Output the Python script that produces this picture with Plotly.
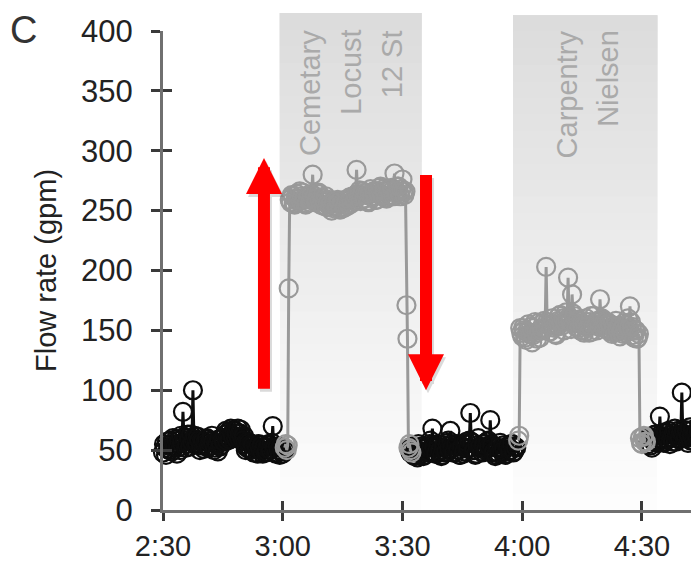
import plotly.graph_objects as go
import pandas as pd

DAY = "2020-01-01 "

# ---- data (flow rate in gpm, sampled every 15 s) ----
seg_a_start = "02:30:00"  # black
seg_a_values = [48, 55, 52, 46, 57, 51, 50, 58, 55, 49, 60, 54, 53, 59, 47, 52, 58, 50, 62, 56,
                82, 61, 58, 52, 55, 63, 60, 53, 63, 57, 100, 59, 62, 55, 56, 61, 58, 50, 54, 58,
                57, 51, 55, 59, 60, 52, 53, 57, 58, 62, 56, 50, 52, 56, 55, 49, 59, 53, 54, 60,
                60, 57, 63, 66, 58, 61, 65, 59, 68, 63, 62, 67, 66, 60, 64, 68, 60, 64, 67, 61,
                58, 62, 55, 50, 52, 57, 56, 51, 50, 55, 54, 48, 48, 53, 52, 47, 55, 51, 50, 54,
                47, 52, 53, 48, 49, 54, 55, 50, 50, 56, 70, 53, 52, 47, 48, 53, 50, 46, 53, 49,
                47, 52, 50]

seg_b_start = "03:00:30"  # grey (Cemetary / Locust / 12 St)
seg_b_values = [52, 55, 50, 54, 185, 259,
                257, 263, 262, 256, 255, 260, 264, 258, 260, 266, 258, 262, 265, 259, 261, 255,
                256, 262, 263, 257, 259, 264,
                280, 262,
                262, 257, 258, 264, 265, 259, 255, 261, 260, 254, 257, 262, 253, 258, 259, 255,
                256, 250, 252, 257, 258, 253, 254, 259, 257, 251, 251, 256, 256, 252, 253, 259,
                258, 254, 255, 261, 260, 256, 262, 258, 258, 263,
                284, 264,
                262, 267, 258, 263, 266, 260, 260, 265, 263, 258, 257, 264, 268, 262, 261, 266,
                265, 259, 259, 266, 264, 269, 270, 263, 262, 268, 266, 261, 260, 267, 268, 263,
                263, 269, 267, 262,
                281, 265,
                265, 270, 270, 264, 262, 268, 276, 266, 263, 266,
                171, 143, 52, 55, 50, 48]

seg_c_start = "03:32:00"  # black
seg_c_values = [48, 53, 52, 46, 45, 51, 50, 44, 55, 49, 47, 53, 51, 45, 46, 52, 53, 48, 49, 55,
                58, 52, 68, 54, 52, 47, 47, 53, 55, 49, 50, 45, 46, 52, 54, 48, 49, 56, 58, 51,
                66, 55, 52, 48, 48, 54, 55, 50, 50, 46, 46, 53, 53, 47, 49, 55, 57, 51, 52, 58,
                81, 57, 56, 50, 50, 46, 47, 54, 60, 52, 53, 49, 48, 55, 55, 50, 51, 57, 58, 53,
                75, 55, 54, 48, 49, 45, 46, 52, 52, 47, 56, 50, 48, 54, 51, 46, 47, 53, 53, 49,
                50, 55, 55, 48, 49, 53, 52]

seg_d_start = "03:59:00"  # grey (Carpentry / Nielsen)
seg_d_values = [58, 62, 152, 148,
                145, 152, 150, 144, 142, 149, 155, 147, 147, 153, 140, 146, 152, 157, 148, 143,
                156, 150, 144, 151,
                150, 156, 158, 152, 203, 157, 155, 149, 149, 154, 160, 155, 152, 147, 146, 153,
                158, 162, 163, 156,
                154, 160, 150, 157, 165, 159, 194, 161, 158, 151, 180, 164, 162, 156, 153, 158,
                159, 152, 150, 155,
                156, 150, 148, 154, 160, 157, 153, 148, 157, 162, 149, 155, 162, 157, 155, 150,
                158, 153, 176, 159,
                160, 154, 152, 158, 157, 151, 150, 156, 155, 149, 147, 152, 153, 148, 158, 151,
                149, 154, 145, 150,
                152, 147, 156, 150, 148, 154, 160, 152, 170, 157, 153, 146, 144, 150, 150, 143,
                144, 147,
                60, 56, 55, 61, 62, 57, 57]

seg_e_start = "04:31:30"  # black
seg_e_values = [55, 61, 60, 54, 52, 58, 58, 63, 63, 56, 57, 62, 78, 60, 62, 57, 56, 64, 65, 59,
                59, 66, 55, 60, 61, 57, 64, 68, 57, 62, 66, 59, 60, 65, 98, 63, 67, 60, 61, 66,
                56, 62, 69, 58, 62, 67, 58, 64, 65, 59, 60, 66, 63, 58, 58]

y_ticks = [0, 50, 100, 150, 200, 250, 300, 350, 400]
x_tick_times = ["02:30", "03:00", "03:30", "04:00", "04:30"]
x_tick_labels = ["2:30", "3:00", "3:30", "4:00", "4:30"]

shade_spans = [("02:59:18", "03:34:42"), ("03:57:42", "04:33:48")]
station_labels = [("Cemetary", "03:06:48"), ("Locust", "03:16:54"), ("12 St", "03:27:24"),
                  ("Carpentry", "04:11:18"), ("Nielsen", "04:21:18")]

# arrows: (time, tail value, tip value)
arrows = [("02:55:18", 100, 294), ("03:35:54", 281, 100)]

BLACK = "#0d0d0d"
GREY = "#999999"
FONT = "Liberation Sans, Arial, sans-serif"


def times(start, n):
    return pd.date_range(DAY + start, periods=n, freq="15s")


fig = go.Figure()

segments = [
    (seg_a_start, seg_a_values, BLACK),
    (seg_c_start, seg_c_values, BLACK),
    (seg_e_start, seg_e_values, BLACK),
    (seg_b_start, seg_b_values, GREY),
    (seg_d_start, seg_d_values, GREY),
]
for start, vals, col in segments:
    fig.add_trace(go.Scatter(
        x=times(start, len(vals)), y=vals, mode="lines+markers",
        line=dict(color=col, width=3),
        marker=dict(symbol="circle-open", size=18, color=col, line=dict(width=2.2, color=col)),
        showlegend=False, hoverinfo="skip", cliponaxis=False,
    ))

# dummy trace so the overlay axes (for cross-style ticks) exist
fig.add_trace(go.Scatter(x=[], y=[], xaxis="x2", yaxis="y2", showlegend=False))

# gradient shaded spans
shapes = []
N = 30
for (s0, s1), top in zip(shade_spans, [1.0376, 1.033]):
    for i in range(N):
        f = i / N
        g = int(round(253 - (253 - 219) * f))
        shapes.append(dict(
            type="rect", xref="x", yref="paper",
            x0=DAY + s0, x1=DAY + s1, y0=top * f, y1=top,
            fillcolor=f"rgb({g},{g},{g})", line=dict(width=0), layer="below",
        ))

annotations = []
for txt, t in station_labels:
    annotations.append(dict(
        text=txt, x=DAY + t, y=1.006, xref="x", yref="paper",
        xanchor="center", yanchor="top", textangle=-90, showarrow=False,
        font=dict(family=FONT, size=29, color="#aaaaaa"),
    ))

# red arrows with a soft drop shadow
for t, tail, tip in arrows:
    for col, dx, dy in [("rgba(90,90,90,0.22)", 2, -3), ("#ff0000", 0, 0)]:
        annotations.append(dict(
            text="", x=DAY + t, y=tip, ax=DAY + t, ay=tail,
            xref="x", yref="y", axref="x", ayref="y", showarrow=True,
            arrowhead=2, arrowsize=0.6, arrowwidth=12, arrowcolor=col,
            xshift=dx, yshift=dy,
        ))

annotations.append(dict(
    text="C", x=-0.287, y=1.047, xref="paper", yref="paper",
    xanchor="left", yanchor="top", showarrow=False, borderpad=0,
    font=dict(family=FONT, size=38, color="#333333"),
))

x_range = [DAY + "02:30:00", DAY + "04:44:18"]
tickvals_x = [DAY + t + ":00" for t in x_tick_times]

# the page body has an 8 px margin, so the figure is 8 px smaller than the window
fig.update_layout(
    width=691, height=555,
    margin=dict(l=155, r=0, t=23, b=53, autoexpand=False),
    paper_bgcolor="white", plot_bgcolor="white",
    shapes=shapes, annotations=annotations,
    xaxis=dict(
        type="date", range=x_range, tickvals=tickvals_x, ticktext=x_tick_labels,
        showgrid=False, zeroline=False, showline=True, linecolor="#707070", linewidth=3,
        ticks="outside", ticklen=8, tickwidth=2.5, tickcolor="#3a3a3a", automargin=False,
        tickfont=dict(family=FONT, size=29, color="#222222"), ticklabelstandoff=0,
    ),
    xaxis2=dict(
        type="date", range=x_range, tickvals=tickvals_x, overlaying="x",
        showgrid=False, zeroline=False, showline=False, showticklabels=False,
        ticks="inside", ticklen=9, tickwidth=2.5, tickcolor="#3a3a3a", anchor="y",
        automargin=False,
    ),
    yaxis=dict(
        range=[0, 400], tickvals=y_ticks, automargin=False,
        showgrid=False, zeroline=False, showline=True, linecolor="#707070", linewidth=3,
        ticks="outside", ticklen=9, tickwidth=2.5, tickcolor="#3a3a3a",
        tickfont=dict(family=FONT, size=31, color="#222222"), ticklabelstandoff=12,
        title=dict(text="Flow rate (gpm)", font=dict(family=FONT, size=29, color="#222222"), standoff=16),
    ),
    yaxis2=dict(
        range=[0, 400], tickvals=y_ticks, overlaying="y", anchor="x", automargin=False,
        showgrid=False, zeroline=False, showline=False, showticklabels=False,
        ticks="inside", ticklen=9, tickwidth=2.5, tickcolor="#3a3a3a",
    ),
)

fig.write_html("out.html")
